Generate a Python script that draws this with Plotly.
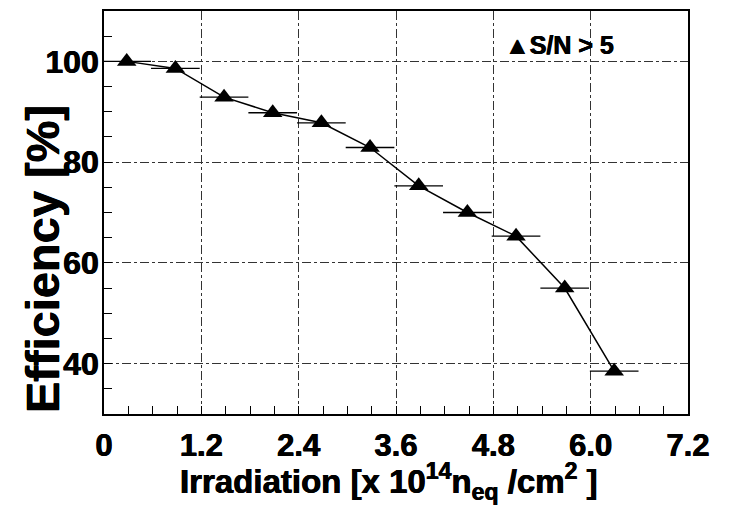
import plotly.graph_objects as go

# Irradiation dose [1e14 n_eq/cm^2] and detection efficiency [%] for S/N > 5
irradiation = [0.28, 0.88, 1.48, 2.08, 2.68, 3.28, 3.88, 4.48, 5.08, 5.68, 6.29]
efficiency = [100.0, 98.6, 92.9, 89.8, 87.8, 82.9, 75.3, 70.0, 65.3, 55.0, 38.5]
dose_halfwidth = [0.3] * len(irradiation)

x_ticks = [0, 1.2, 2.4, 3.6, 4.8, 6.0, 7.2]
x_tick_text = ["0", "1.2", "2.4", "3.6", "4.8", "6.0", "7.2"]
y_ticks = [40, 60, 80, 100]
y_tick_text = ["40", "60", "80", "100"]

FONT = "Liberation Sans, Arial, Helvetica, sans-serif"
THICK = "0.4px 0 0 black, -0.4px 0 0 black"


def bold(labels):
    return ["<b>%s</b>" % s for s in labels]


fig = go.Figure()

# connecting line
fig.add_trace(go.Scatter(
    x=irradiation, y=efficiency, mode="lines",
    line=dict(color="black", width=1.5),
    showlegend=False, hoverinfo="skip",
))

# markers with horizontal error bars
fig.add_trace(go.Scatter(
    x=irradiation, y=efficiency, mode="markers",
    marker=dict(symbol="triangle-up", size=17, color="black"),
    error_x=dict(type="data", array=dose_halfwidth, width=0,
                 color="black", thickness=1.3),
    name="S/N > 5", showlegend=False,
))

grid = dict(showgrid=True, gridcolor="#333333", gridwidth=1, griddash="dashdot")


def tick_font(size):
    return dict(family=FONT, size=size, color="black", weight="bold", shadow=THICK)


fig.update_xaxes(
    range=[0, 7.2], tickvals=x_ticks, ticktext=bold(x_tick_text),
    ticks="inside", ticklen=8, tickwidth=1.3, tickcolor="black",
    minor=dict(dtick=0.3, ticks="inside", ticklen=8, tickwidth=1.3,
               tickcolor="black", showgrid=False),
    showline=True, linecolor="black", linewidth=1.6, mirror=True,
    zeroline=False, tickfont=tick_font(31), ticklabelstandoff=3,
    **grid,
)
fig.update_yaxes(
    range=[30, 110], tickvals=y_ticks, ticktext=bold(y_tick_text),
    ticks="inside", ticklen=8, tickwidth=1.3, tickcolor="black",
    minor=dict(dtick=5, ticks="inside", ticklen=8, tickwidth=1.3,
               tickcolor="black", showgrid=False),
    showline=True, linecolor="black", linewidth=1.6, mirror=True,
    zeroline=False, tickfont=tick_font(32), ticklabelstandoff=-3,
    **grid,
)

fig.add_annotation(
    xref="paper", yref="paper", x=-0.104, y=0.385,
    text="<b>Efficiency [%]</b>", textangle=-90, showarrow=False,
    xanchor="center", yanchor="middle",
    font=dict(family=FONT, size=47, color="black", shadow=THICK),
)
fig.add_annotation(
    xref="paper", yref="paper", x=0.488, y=-0.168,
    text="<b>Irradiation [x 10<sup>14</sup>n<sub>eq</sub> /cm<sup>2</sup> ]</b>",
    showarrow=False, xanchor="center", yanchor="middle",
    font=dict(family=FONT, size=33, color="black", shadow=THICK),
)
fig.add_annotation(
    xref="paper", yref="paper", x=0.684, y=0.915,
    text="<b>▲S/N > 5</b>", showarrow=False, xanchor="left", yanchor="middle",
    font=dict(family=FONT, size=25, color="black", shadow=THICK),
)

fig.update_layout(
    width=730, height=505,
    margin=dict(l=104, r=42, t=9, b=91),
    paper_bgcolor="white", plot_bgcolor="white",
)

fig.write_html("out.html")
